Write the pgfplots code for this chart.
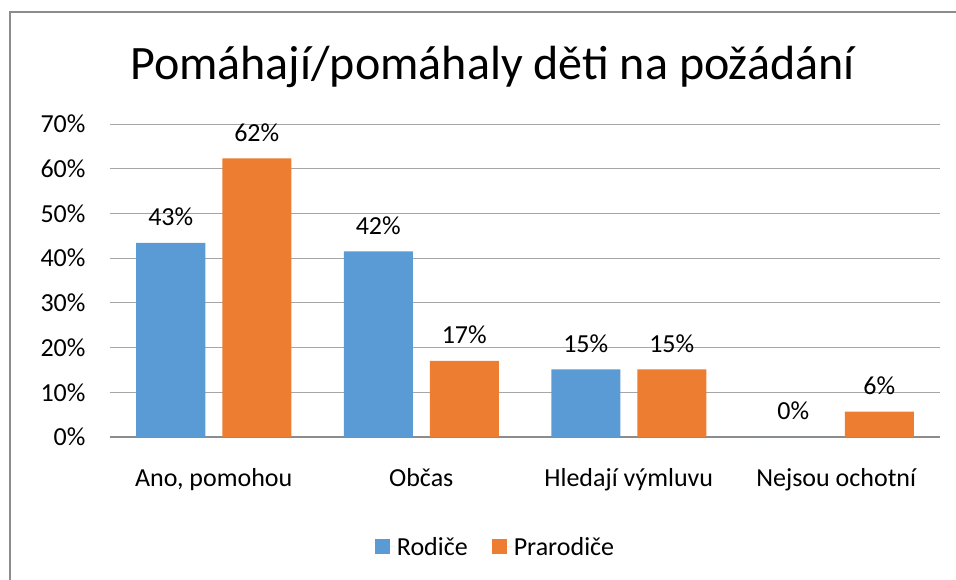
\documentclass[border=0pt]{standalone}
\usepackage{pgfplots}
\pgfplotsset{compat=1.18}
\usepackage{fontspec}
\setmainfont{Carlito}
\definecolor{cblue}{HTML}{5B9BD5}
\definecolor{corange}{HTML}{ED7D31}
\definecolor{gridgray}{HTML}{A6A6A6}
\definecolor{axgray}{HTML}{8C8C8C}
\definecolor{framegray}{HTML}{8C8C8C}
\begin{document}
\begin{tikzpicture}[x=1pt,y=1pt]
\useasboundingbox (0,0) rectangle (956,580);
\draw[framegray, line width=2pt] (10,-5) -- (10,568) -- (961,568);
\node[anchor=base, font=\fontsize{48}{56}\selectfont, inner sep=0pt] at (492.5,500) {Pomáhají/pomáhaly děti na požádání};
\begin{axis}[
  at={(110pt,143pt)}, anchor=south west,
  scale only axis, width=830pt, height=313pt,
  xmin=-0.5, xmax=3.5, ymin=0, ymax=70,
  ybar=17pt, bar width=69pt,
  xtick={0,1,2,3},
  xticklabels={{Ano, pomohou},{Občas},{Hledají výmluvu},{Nejsou ochotní}},
  ytick={0,10,...,70},
  yticklabel={\pgfmathprintnumber{\tick}\%},
  /pgf/number format/assume math mode=true,
  ticklabel style={font=\fontsize{26}{30}\selectfont},
  xticklabel style={anchor=base, yshift=-50pt},
  yticklabel style={anchor=east, xshift=-21pt},
  major tick length=0pt,
  tick style={draw=none},
  ymajorgrids,
  grid style={gridgray, line width=1pt},
  axis x line*=bottom,
  axis y line*=left,
  x axis line style={-, axgray, line width=2pt},
  y axis line style={draw=none},
  nodes near coords={\pgfmathprintnumber[fixed,precision=0]{\pgfplotspointmeta}\%},
  every node near coord/.append style={font=\fontsize{26}{30}\selectfont, anchor=base, yshift=17pt, inner sep=0pt, black},
  legend style={at={(0.4645,-0.351)}, anchor=center, draw=none, legend columns=2,
    font=\fontsize{26}{30}\selectfont,
    /tikz/every even column/.append style={column sep=22pt}},
  legend image code/.code={\path (0pt,0pt) -- (20pt,0pt); \fill[#1] (0pt,-7.5pt) rectangle (15pt,7.5pt);},
]
\addplot[fill=cblue, draw=none] coordinates {(0,43.4) (1,41.5) (2,15.1) (3,0)};
\addplot[fill=corange, draw=none] coordinates {(0,62.3) (1,17.0) (2,15.1) (3,5.7)};
\legend{Rodiče, Prarodiče}
\end{axis}
\end{tikzpicture}
\end{document}
